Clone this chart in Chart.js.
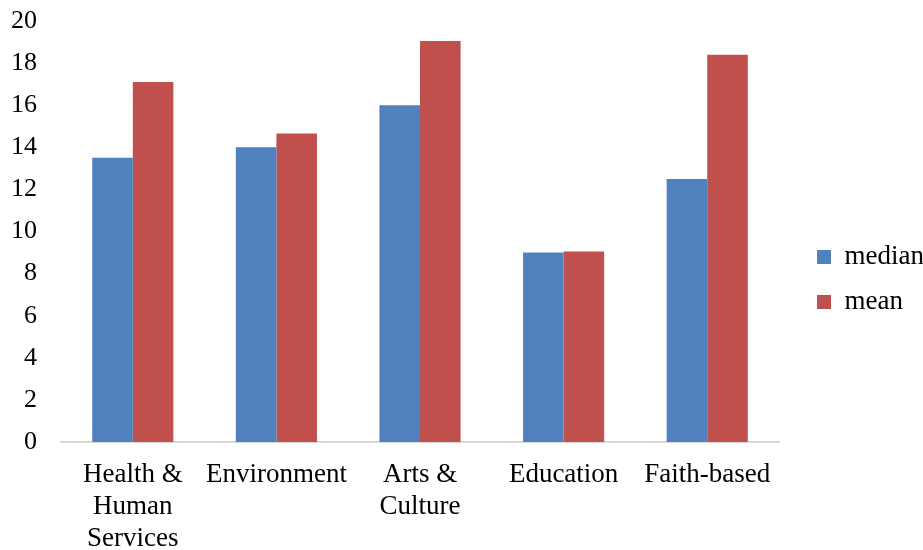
<!DOCTYPE html>
<html>
<head>
<meta charset="utf-8">
<script src="https://cdn.jsdelivr.net/npm/chart.js@4"></script>
<style>
html,body{margin:0;padding:0;background:#fff;}
#wrap{width:923px;height:550px;position:relative;}
</style>
</head>
<body>
<div id="wrap"><canvas id="c"></canvas></div>
<script>
const categories = [["Health &","Human","Services"], "Environment", ["Arts &","Culture"], "Education", "Faith-based"];
const medianValues = [13.5, 14.0, 16.0, 9.0, 12.5];
const meanValues = [17.1, 14.65, 19.05, 9.05, 18.4];
const seriesNames = ["median", "mean"];
const yTicks = [0, 2, 4, 6, 8, 10, 12, 14, 16, 18, 20];

const FONT = "'Liberation Serif', 'Times New Roman', serif";

new Chart(document.getElementById('c'), {
  type: 'bar',
  data: {
    labels: categories,
    datasets: [
      { label: seriesNames[0], data: medianValues, backgroundColor: '#4F81BD', borderWidth: 0 },
      { label: seriesNames[1], data: meanValues, backgroundColor: '#C0504D', borderWidth: 0 }
    ]
  },
  options: {
    responsive: true,
    maintainAspectRatio: false,
    animation: false,
    devicePixelRatio: 1,
    layout: { padding: { top: 5, right: -11, left: 0, bottom: 0 } },
    datasets: { bar: { categoryPercentage: 0.565, barPercentage: 1.0 } },
    plugins: {
      tooltip: { enabled: false },
      legend: {
        position: 'right',
        align: 'start',
        title: {
          display: true,
          text: ' ',
          font: { family: FONT, size: 12, lineHeight: '0.5px' },
          padding: { top: 200, bottom: 0 }
        },
        labels: {
          color: '#000',
          font: { family: FONT, size: 27, lineHeight: '7px' },
          boxWidth: 14,
          boxHeight: 14,
          padding: 38,
          generateLabels: (chart) => {
            const items = Chart.defaults.plugins.legend.labels.generateLabels(chart);
            items.forEach(it => { it.text = [it.text]; it.lineWidth = 0; });
            return items;
          }
        }
      }
    },
    scales: {
      x: {
        grid: { display: false, drawTicks: false },
        border: { display: true, color: '#D9D9D9', width: 2 },
        ticks: {
          color: '#000',
          font: { family: FONT, size: 27, lineHeight: 1.19 },
          padding: 17,
          maxRotation: 0,
          autoSkip: false
        },
        afterFit: (s) => { s.height = 108; }
      },
      y: {
        min: 0,
        max: 20,
        afterBuildTicks: (s) => { s.ticks = yTicks.map(v => ({ value: v })); },
        grid: { display: false, drawTicks: false },
        border: { display: false },
        ticks: {
          color: '#000',
          font: { family: FONT, size: 26 },
          padding: 24
        },
        afterFit: (s) => { s.width = 61; s.paddingTop = 21; s.paddingBottom = 0; }
      }
    }
  }
});
</script>
</body>
</html>
